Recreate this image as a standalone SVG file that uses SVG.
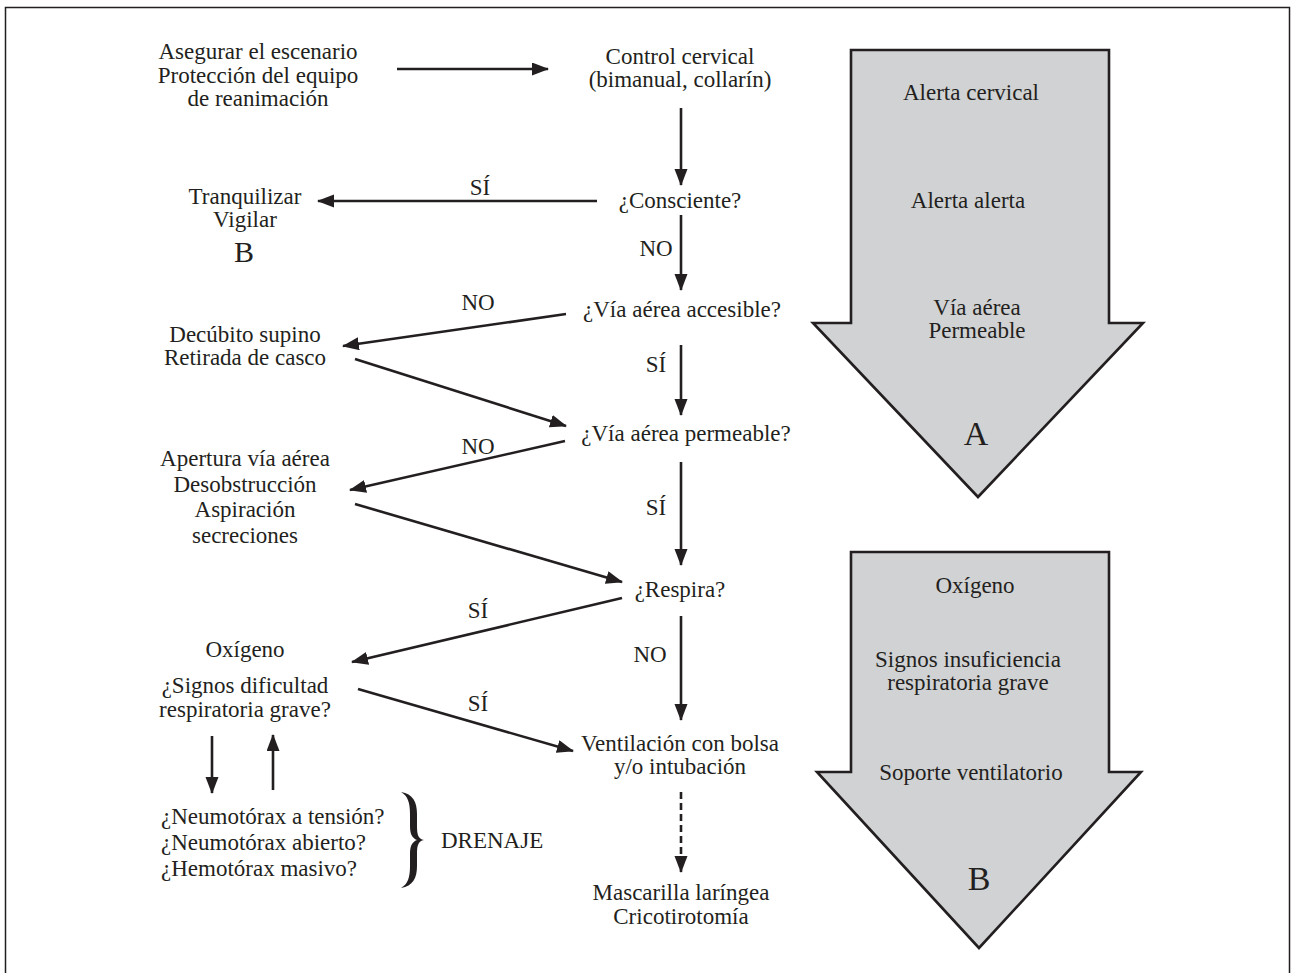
<svg xmlns="http://www.w3.org/2000/svg" width="1291" height="973" viewBox="0 0 1291 973">
<defs>
<style>
text{font-family:"Liberation Serif","Times New Roman",serif;font-size:23px;fill:#231f20;text-anchor:middle}
.l{text-anchor:start}
.big{font-size:34px}
.conn{stroke:#231f20;stroke-width:2.6;fill:none}
.dash{stroke-dasharray:7 4}
.band{fill:#d1d2d4;stroke:#231f20;stroke-width:2.6;stroke-linejoin:miter}
</style>
<marker id="ah" markerUnits="userSpaceOnUse" markerWidth="18" markerHeight="14" refX="16" refY="6.5" orient="auto">
<path d="M0,0 L17,6.5 L0,13 z" fill="#231f20"/>
</marker>
</defs>
<rect x="0" y="0" width="1291" height="973" fill="#fff"/>
<path d="M5.5,990 V7.5 H1289.5 V990" fill="none" stroke="#231f20" stroke-width="1.5"/>

<g id="bandA">
<path class="band" d="M851,50 H1109 V323 H1143 L978,497 L813,323 H851 Z"/>
<text x="971" y="100">Alerta cervical</text>
<text x="968" y="208">Alerta alerta</text>
<text x="977" y="315">Vía aérea</text>
<text x="977" y="338">Permeable</text>
<text class="big" x="976" y="445">A</text>
</g>
<g id="bandB">
<path class="band" d="M851,552 H1109 V772 H1141 L979,948 L817,772 H851 Z"/>
<text x="975" y="593">Oxígeno</text>
<text x="968" y="667">Signos insuficiencia</text>
<text x="968" y="690">respiratoria grave</text>
<text x="971" y="780">Soporte ventilatorio</text>
<text class="big" x="979" y="890">B</text>
</g>

<g id="n-escenario">
<text x="258" y="59">Asegurar el escenario</text>
<text x="258" y="83">Protección del equipo</text>
<text x="258" y="106">de reanimación</text>
</g>
<g id="n-cervical">
<text x="680" y="64">Control cervical</text>
<text x="680" y="87">(bimanual, collarín)</text>
</g>
<g id="n-consciente"><text x="680" y="208">¿Consciente?</text></g>
<g id="n-tranquilizar">
<text x="245" y="204">Tranquilizar</text>
<text x="245" y="227">Vigilar</text>
<text x="244" y="262" style="font-size:30px">B</text>
</g>
<g id="n-accesible"><text x="682" y="317">¿Vía aérea accesible?</text></g>
<g id="n-decubito">
<text x="245" y="342">Decúbito supino</text>
<text x="245" y="365">Retirada de casco</text>
</g>
<g id="n-permeable"><text x="686" y="441">¿Vía aérea permeable?</text></g>
<g id="n-apertura">
<text x="245" y="466">Apertura vía aérea</text>
<text x="245" y="492">Desobstrucción</text>
<text x="245" y="517">Aspiración</text>
<text x="245" y="543">secreciones</text>
</g>
<g id="n-respira"><text x="680" y="597">¿Respira?</text></g>
<g id="n-oxigeno">
<text x="245" y="657">Oxígeno</text>
<text x="245" y="693">¿Signos dificultad</text>
<text x="245" y="717">respiratoria grave?</text>
</g>
<g id="n-ventilacion">
<text x="680" y="751">Ventilación con bolsa</text>
<text x="680" y="774">y/o intubación</text>
</g>
<g id="n-mascarilla">
<text x="681" y="900">Mascarilla laríngea</text>
<text x="681" y="924">Cricotirotomía</text>
</g>
<g id="n-neumo">
<text class="l" x="161" y="824">¿Neumotórax a tensión?</text>
<text class="l" x="161" y="850">¿Neumotórax abierto?</text>
<text class="l" x="161" y="876">¿Hemotórax masivo?</text>
<path d="M401,792 C413,794 417,802 417,814 L417,826 C417,834 418,839 424,840 C418,841 417,846 417,854 L417,866 C417,878 413,886 401,888 C408,884 410,877 410,866 L410,854 C410,846 412,842 417,840 C412,838 410,834 410,826 L410,814 C410,803 408,796 401,792 Z" fill="#231f20"/>
<text class="l" x="441" y="848">DRENAJE</text>
</g>

<g id="connectors">
<line class="conn" x1="397" y1="69" x2="548" y2="69" marker-end="url(#ah)"/>
<line class="conn" x1="681" y1="108" x2="681" y2="185" marker-end="url(#ah)"/>
<line class="conn" x1="597" y1="201" x2="318" y2="201" marker-end="url(#ah)"/>
<line class="conn" x1="681" y1="215" x2="681" y2="290" marker-end="url(#ah)"/>
<line class="conn" x1="566" y1="314" x2="343" y2="346" marker-end="url(#ah)"/>
<line class="conn" x1="355" y1="359" x2="566" y2="426" marker-end="url(#ah)"/>
<line class="conn" x1="681" y1="345" x2="681" y2="415" marker-end="url(#ah)"/>
<line class="conn" x1="565" y1="441" x2="350" y2="490" marker-end="url(#ah)"/>
<line class="conn" x1="355" y1="504" x2="622" y2="582" marker-end="url(#ah)"/>
<line class="conn" x1="681" y1="462" x2="681" y2="565" marker-end="url(#ah)"/>
<line class="conn" x1="622" y1="598" x2="352" y2="662" marker-end="url(#ah)"/>
<line class="conn" x1="681" y1="616" x2="681" y2="720" marker-end="url(#ah)"/>
<line class="conn" x1="358" y1="689" x2="573" y2="751" marker-end="url(#ah)"/>
<line class="conn dash" x1="681" y1="792" x2="681" y2="872" marker-end="url(#ah)"/>
<line class="conn" x1="212" y1="736" x2="212" y2="793" marker-end="url(#ah)"/>
<line class="conn" x1="273" y1="790" x2="273" y2="735" marker-end="url(#ah)"/>
<text x="480" y="195">SÍ</text>
<text x="656" y="256">NO</text>
<text x="478" y="310">NO</text>
<text x="656" y="372">SÍ</text>
<text x="478" y="454">NO</text>
<text x="656" y="515">SÍ</text>
<text x="478" y="618">SÍ</text>
<text x="650" y="662">NO</text>
<text x="478" y="711">SÍ</text>
</g>
</svg>
